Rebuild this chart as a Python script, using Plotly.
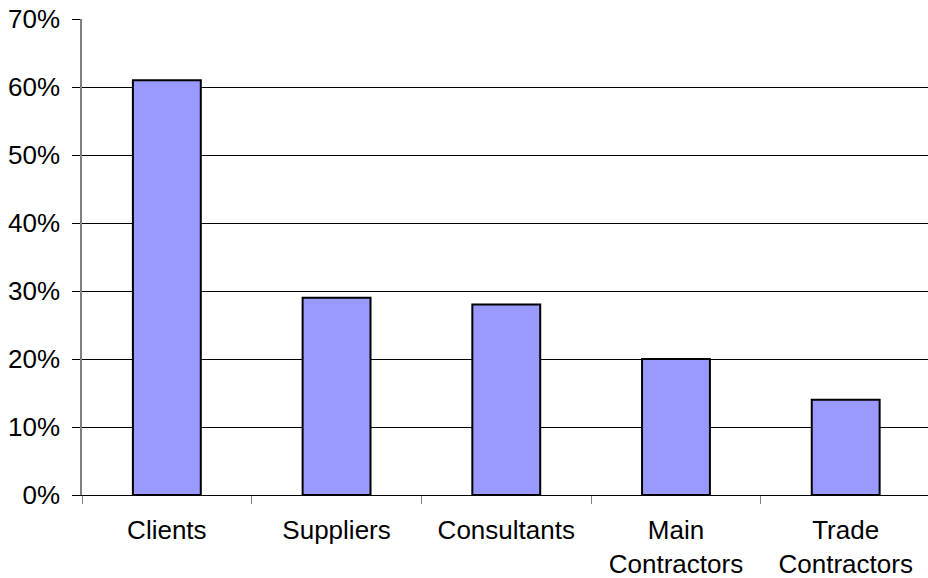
import plotly.graph_objects as go

categories = ["Clients", "Suppliers", "Consultants", "Main<br>Contractors", "Trade<br>Contractors"]
values = [0.61, 0.29, 0.28, 0.20, 0.14]
y_ticks = [0, 0.1, 0.2, 0.3, 0.4, 0.5, 0.6, 0.7]
y_tick_labels = ["0%", "10%", "20%", "30%", "40%", "50%", "60%", "70%"]

fig = go.Figure()
fig.add_trace(go.Bar(
    x=categories, y=values, width=0.4,
    marker=dict(color="#9999FF", line=dict(color="black", width=2)),
    hoverinfo="skip",
))

fig.update_layout(
    width=928, height=578,
    margin=dict(l=82, r=0, t=19, b=83),
    paper_bgcolor="white", plot_bgcolor="white",
    font=dict(family="Liberation Sans, Arial", size=26, color="black"),
    showlegend=False,
    bargap=0.6,
)
fig.update_xaxes(
    type="category",
    range=[-0.5, 4.485],
    tickson="boundaries",
    ticks="outside", ticklen=8, tickcolor="#808080", tickwidth=1,
    showline=True, linecolor="black", linewidth=1,
    showgrid=False,
    ticklabelstandoff=12,
    tickfont=dict(size=26),
    automargin=False,
)
fig.update_yaxes(
    range=[0, 0.7],
    tickvals=y_ticks, ticktext=y_tick_labels,
    ticks="outside", ticklen=8, tickcolor="black", tickwidth=1,
    showline=True, linecolor="#808080", linewidth=1.5,
    showgrid=True, gridcolor="black", gridwidth=1,
    zeroline=False,
    ticklabelstandoff=7,
    tickfont=dict(size=26),
    automargin=False,
)

fig.write_html("out.html")
